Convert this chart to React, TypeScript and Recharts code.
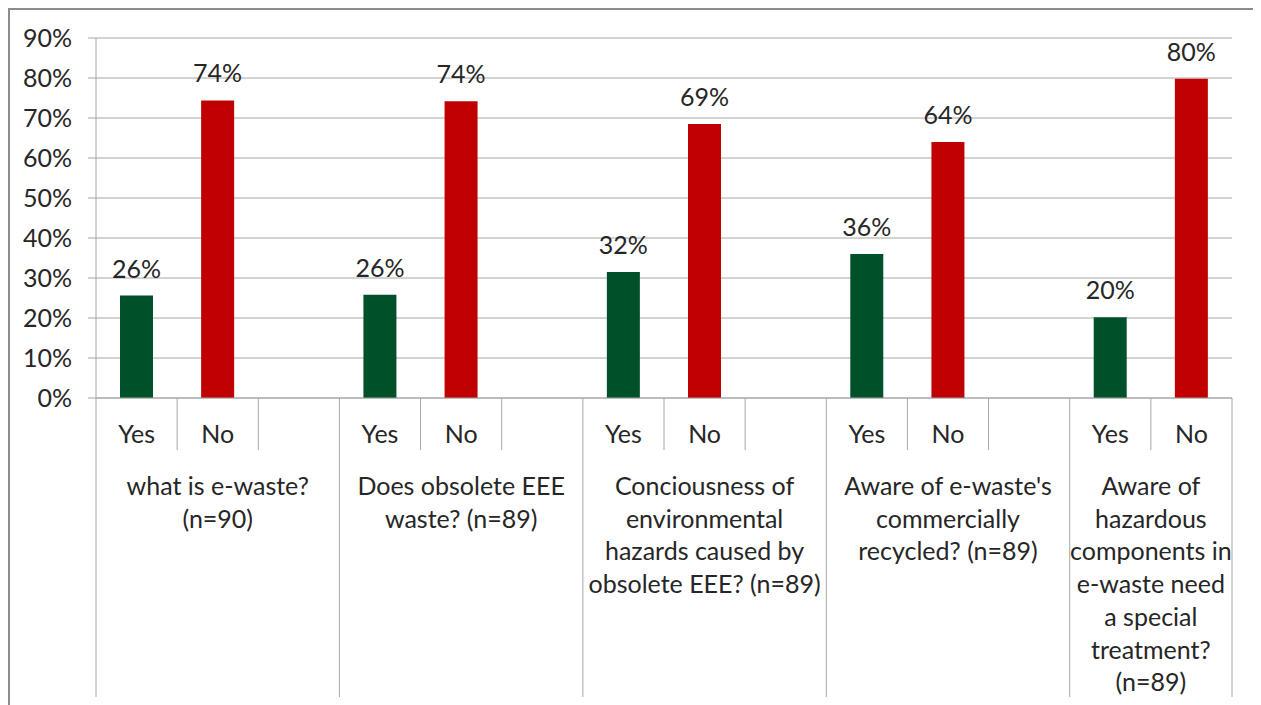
import React from "react";
import { BarChart, Bar, XAxis, YAxis, CartesianGrid, Cell, LabelList } from "recharts";

// question groups, one entry per line of the wrapped label
const groupLabels: string[][] = [
  ["what is e-waste?", "(n=90)"],
  ["Does obsolete EEE", "waste? (n=89)"],
  ["Conciousness of", "environmental", "hazards caused by", "obsolete EEE? (n=89)"],
  ["Aware of e-waste's", "commercially", "recycled? (n=89)"],
  ["Aware of", "hazardous", "components in", "e-waste need", "a special", "treatment?", "(n=89)"],
];
const answers = ["Yes", "No"];
const yesValues = [25.6, 25.8, 31.5, 36.0, 20.2];
const noValues = [74.4, 74.2, 68.5, 64.0, 79.8];
const yTicks = [0, 10, 20, 30, 40, 50, 60, 70, 80, 90];

const GREEN = "#00502a";
const RED = "#c00000";
const LINE = "#a6a6a6";
const TEXT = "#262626";
const FONT = "Lato, 'Open Sans', sans-serif";
const FS = 25;

interface Row {
  key: string;
  sub: string;
  value: number | null;
  color: string;
  group: number;
  first: boolean;
  slots: number;
}

// three slots per question (Yes, No, blank), the last question has no blank
const rows: Row[] = [];
groupLabels.forEach((_, g) => {
  const slots = g === groupLabels.length - 1 ? 2 : 3;
  rows.push({ key: `${g}-y`, sub: answers[0], value: yesValues[g], color: GREEN, group: g, first: true, slots });
  rows.push({ key: `${g}-n`, sub: answers[1], value: noValues[g], color: RED, group: g, first: false, slots });
  if (slots === 3) rows.push({ key: `${g}-b`, sub: "", value: null, color: GREEN, group: g, first: false, slots });
});

const CHART_W = 1243;
const CHART_H = 690;
const MARGIN = { top: 28, right: 21, left: 0, bottom: 0 };
const Y_W = 86;
const PLOT_W = CHART_W - MARGIN.right - Y_W;
const BAND = PLOT_W / rows.length;

const XTick = (props: any) => {
  const { x, y, payload } = props;
  const i = payload.index;
  const row = rows[i];
  const left = x - BAND / 2;
  const out: React.ReactNode[] = [];
  out.push(
    <line key="sep" x1={left} x2={left} y1={y} y2={y + (row.first ? 299 : 52)} stroke={LINE} strokeWidth={1} />
  );
  if (i === rows.length - 1) {
    out.push(<line key="end" x1={x + BAND / 2} x2={x + BAND / 2} y1={y} y2={y + 299} stroke={LINE} strokeWidth={1} />);
  }
  if (row.sub) {
    out.push(
      <text key="sub" x={x} y={y + 35} textAnchor="middle" dominantBaseline="central" fill={TEXT} fontSize={FS} fontFamily={FONT}>
        {row.sub}
      </text>
    );
  }
  if (row.first) {
    const cx = left + (row.slots * BAND) / 2;
    groupLabels[row.group].forEach((line, k) => {
      out.push(
        <text key={`g${k}`} x={cx} y={y + 87 + k * 32.7} textAnchor="middle" dominantBaseline="central" fill={TEXT} fontSize={FS} fontFamily={FONT}>
          {line}
        </text>
      );
    });
  }
  return <g>{out}</g>;
};

const renderLabel = (props: any) => {
  const { x, y, width, value } = props;
  if (value === null || value === undefined) return null;
  return (
    <text x={x + width / 2} y={y - 18} textAnchor="middle" fill={TEXT} fontSize={FS} fontFamily={FONT}>
      {`${Math.round(value)}%`}
    </text>
  );
};

export default function App() {
  return (
    <div style={{ width: CHART_W, height: 700, border: "2px solid #8c8c8c", background: "#fff" }}>
      <BarChart width={CHART_W} height={CHART_H} data={rows} margin={MARGIN} barCategoryGap={0}>
        <CartesianGrid horizontal vertical={false} stroke={LINE} strokeWidth={1} />
        <YAxis
          width={Y_W}
          domain={[0, 90]}
          ticks={yTicks}
          tickFormatter={(v: number) => `${v}%`}
          tickSize={8}
          tickMargin={16}
          tickLine={{ stroke: LINE }}
          axisLine={{ stroke: LINE }}
          tick={{ fill: TEXT, fontSize: FS, fontFamily: FONT }}
          interval={0}
        />
        <XAxis
          dataKey="key"
          height={CHART_H - MARGIN.top - 360}
          interval={0}
          tickLine={false}
          tickSize={0}
          tickMargin={0}
          axisLine={{ stroke: LINE }}
          tick={<XTick />}
        />
        <Bar dataKey="value" barSize={33} isAnimationActive={false}>
          {rows.map((r) => (
            <Cell key={r.key} fill={r.color} />
          ))}
          <LabelList dataKey="value" content={renderLabel} />
        </Bar>
      </BarChart>
    </div>
  );
}
